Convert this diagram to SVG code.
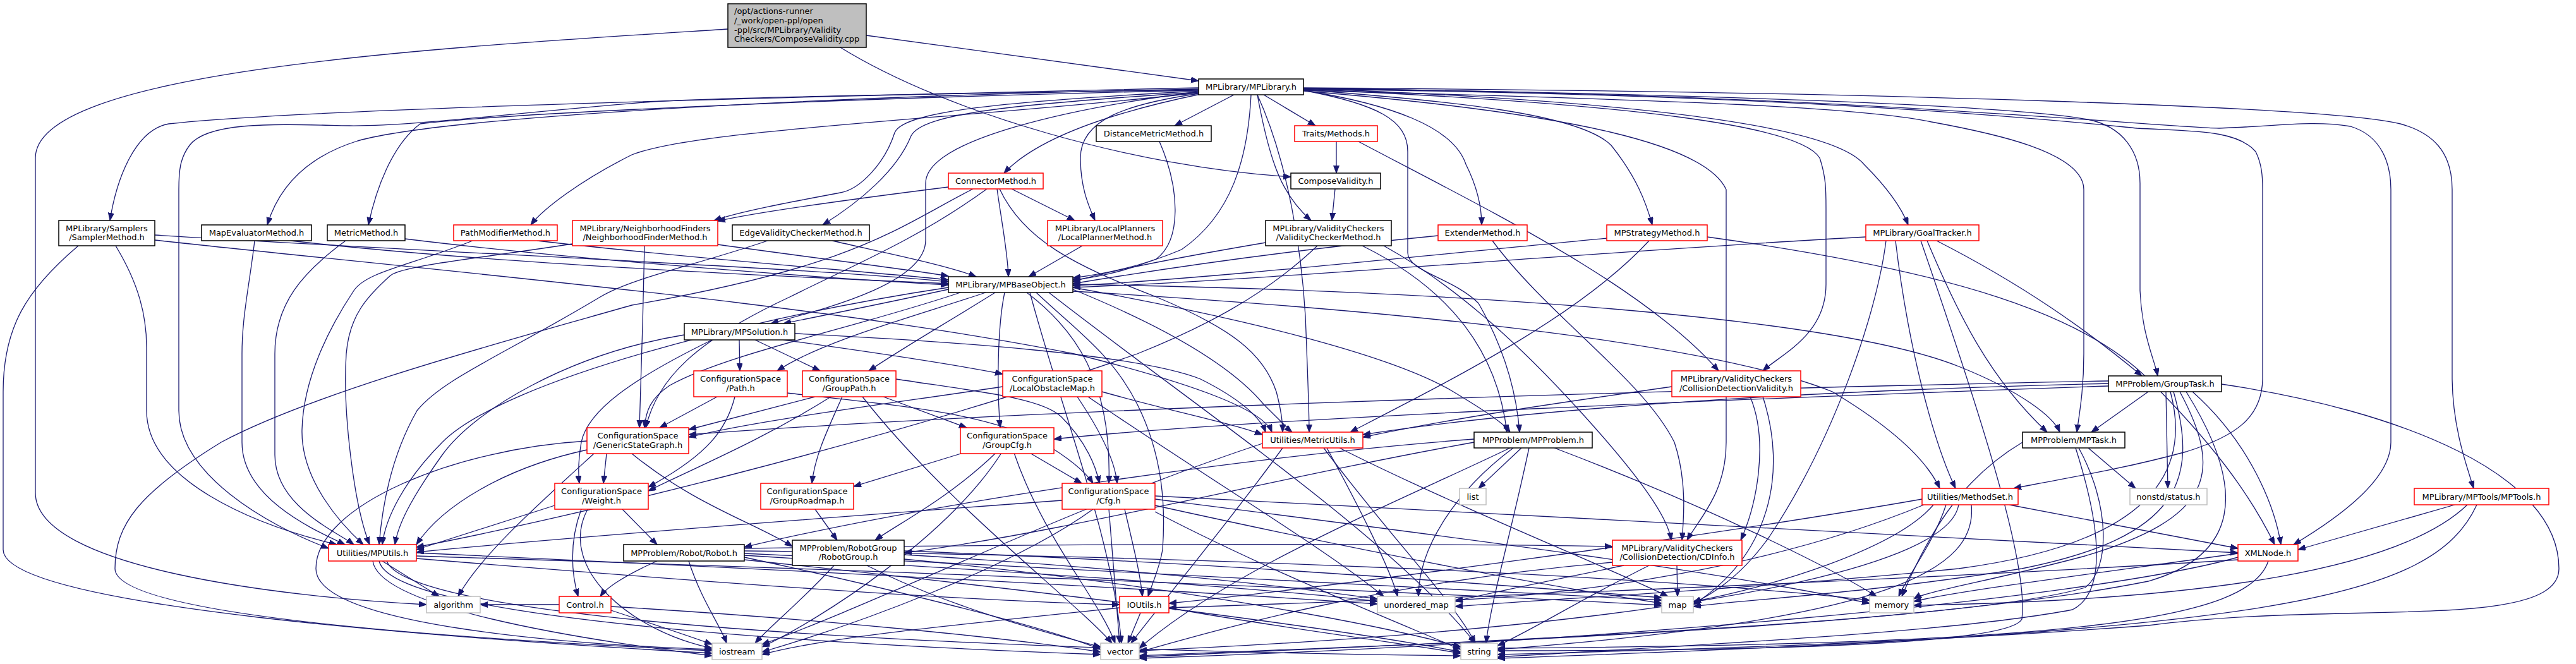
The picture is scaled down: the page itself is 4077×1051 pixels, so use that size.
<svg xmlns="http://www.w3.org/2000/svg" width="4077" height="1051" viewBox="0 0 4077 1051">
<style>
.e path{fill:none;stroke:#191970;stroke-width:1.3;marker-end:url(#a)}
rect{fill:#fff;stroke-width:1.5}
.k rect{stroke:#000}
.r rect{stroke:#f00}
.g rect{stroke:#bfbfbf}
text{font-family:"DejaVu Sans","Liberation Sans",sans-serif;font-size:13px;text-anchor:middle;fill:#000}
</style>
<defs>
<marker id="a" markerWidth="14" markerHeight="10" refX="12" refY="4.5" orient="auto" markerUnits="userSpaceOnUse"><path d="M0,0 L12,4.5 L0,9 z" fill="#191970" stroke="#191970"/></marker>
</defs>
<rect x="0" y="0" width="4077" height="1051" fill="#fff" stroke="none"/>
<g class="e" id="connectors">
<path d="M1371,56 C1600,88 1800,115 1897,128"/>
<path d="M1330,75 C1500,180 1800,265 2043,280"/>
<path d="M1152,46 C700,75 56,110 56,250 L56,780 C56,900 450,945 675,957"/>
<path d="M1897,139 C1400,150 500,170 267,196 C215,205 185,280 174,349"/>
<path d="M1897,141 C1300,152 700,185 566,223 C480,250 440,300 423,356"/>
<path d="M1897,143 C1300,156 800,180 665,196 C620,230 595,300 583,356"/>
<path d="M1897,147 C1500,190 1100,205 1000,245 C920,285 860,330 840,356"/>
<path d="M1897,144 C1600,160 1430,175 1416,210 C1400,260 1360,300 1330,305 C1250,320 1170,335 1130,349"/>
<path d="M1897,146 C1600,165 1460,180 1442,215 C1420,270 1360,320 1302,356"/>
<path d="M1953,150 L1859,199"/>
<path d="M1900,149 C1750,180 1640,220 1589,274"/>
<path d="M1898,148 C1780,165 1710,190 1710,250 C1710,300 1725,330 1733,349"/>
<path d="M1980,150 C1975,250 1950,340 1870,395 C1800,425 1730,436 1698,440"/>
<path d="M1898,145 C1700,170 1465,220 1465,290 L1465,380 C1465,450 1300,490 1220,512"/>
<path d="M2000,150 L2082,199"/>
<path d="M1990,150 C2010,260 2030,310 2075,349"/>
<path d="M2063,143 C2200,165 2300,200 2320,260 C2340,300 2345,330 2345,356"/>
<path d="M2063,142 C2300,160 2500,180 2550,230 C2590,280 2605,320 2615,356"/>
<path d="M2063,140 C2600,160 2900,200 2950,260 C2990,300 3010,330 3020,356"/>
<path d="M2063,141 C2600,165 2850,200 2880,250 C2890,280 2890,300 2890,330 L2890,450 C2890,530 2820,560 2790,587"/>
<path d="M2063,143 C2180,165 2228,190 2228,240 L2228,400 C2228,430 2300,440 2340,480 C2380,550 2400,620 2405,684"/>
<path d="M1990,150 C2040,260 2060,400 2066,500 C2070,600 2072,650 2072,684"/>
<path d="M2063,140 C2800,150 3200,170 3304,189 C3360,200 3387,240 3387,290 L3387,460 C3390,530 3410,570 3415,595"/>
<path d="M2063,143 C2700,160 2950,170 3057,193 C3150,210 3298,240 3298,300 L3298,560 C3298,620 3290,660 3287,684"/>
<path d="M2063,141 C2900,150 3300,195 3382,203 C3470,208 3540,205 3570,240 C3580,260 3581,280 3581,300 L3581,600 C3580,660 3540,690 3460,715 C3350,745 3250,760 3187,773"/>
<path d="M2063,140 C2900,148 3400,200 3512,203 C3600,200 3660,190 3720,200 C3770,215 3784,260 3784,300 L3784,700 C3784,760 3700,820 3630,862"/>
<path d="M2063,139 C3000,145 3700,170 3799,196 C3850,210 3881,240 3881,300 L3881,600 C3882,680 3905,740 3915,773"/>
<path d="M1897,142 C1400,150 1100,155 1020,162 C800,180 650,200 553,199 C450,197 330,190 300,230 C285,250 283,270 283,300 L283,650 C283,750 420,830 520,868"/>
<path d="M2063,144 C2500,180 2700,230 2732,300 L2732,700 C2732,780 2690,820 2670,855"/>
<path d="M1501,296 C1350,315 1200,335 1136,350"/>
<path d="M1601,299 L1701,349"/>
<path d="M1578,299 C1585,350 1595,400 1596,438"/>
<path d="M1582,299 C1620,380 1700,420 1830,470 C1950,520 2000,560 2020,620 C2028,650 2030,670 2030,684"/>
<path d="M1562,299 C1450,380 1350,420 1250,470 C1100,540 1040,600 1022,677"/>
<path d="M1540,299 C1420,360 1360,420 1000,483 C800,540 500,620 350,700 C220,780 182,830 182,900 C182,980 800,1015 1127,1030"/>
<path d="M1835,224 C1868,300 1870,380 1830,410 C1780,430 1730,440 1698,443"/>
<path d="M1713,389 L1628,438"/>
<path d="M1136,387 C1300,410 1450,428 1501,437"/>
<path d="M1317,381 C1400,400 1500,420 1545,438"/>
<path d="M245,372 C700,400 1300,425 1501,446"/>
<path d="M460,381 C800,420 1300,440 1501,449"/>
<path d="M641,378 C900,410 1300,440 1501,451"/>
<path d="M850,381 C1100,410 1400,432 1501,443"/>
<path d="M2003,384 C1850,410 1750,430 1698,446"/>
<path d="M2276,373 C2000,400 1800,432 1698,449"/>
<path d="M2543,377 C2200,410 1900,442 1698,452"/>
<path d="M2953,375 C2500,400 2000,444 1698,455"/>
<path d="M183,389 C220,450 232,500 232,550 L232,650 C232,760 400,830 533,862"/>
<path d="M403,381 C395,450 383,500 383,560 L383,700 C383,790 500,840 546,862"/>
<path d="M547,381 C480,430 435,480 435,560 L435,720 C435,800 530,840 560,862"/>
<path d="M748,381 C650,420 580,430 560,460 C520,520 480,600 478,680 C476,760 540,830 575,862"/>
<path d="M906,386 C750,410 640,420 618,436 C580,470 553,500 548,560 C542,650 560,800 585,862"/>
<path d="M1215,381 C1100,420 1000,440 950,470 C800,560 700,600 660,650 C620,720 605,800 600,862"/>
<path d="M2085,389 C2000,470 1900,520 1800,560 C1400,700 900,820 659,866"/>
<path d="M124,389 C40,460 5,520 5,620 L5,870 C5,960 700,1010 1127,1034"/>
<path d="M245,380 C700,430 1300,480 1700,560 C1900,610 2000,650 2013,684"/>
<path d="M1020,389 C1018,480 1015,600 1012,677"/>
<path d="M1501,458 C1400,480 1300,500 1240,512"/>
<path d="M1560,463 C1450,500 1300,540 1230,587"/>
<path d="M1575,463 C1500,510 1430,550 1375,587"/>
<path d="M1590,463 C1578,520 1578,620 1583,677"/>
<path d="M1625,463 C1700,520 1760,600 1755,765"/>
<path d="M1520,463 C1350,520 1150,560 1060,610 C1030,630 1022,650 1020,677"/>
<path d="M1501,455 C1200,500 800,600 700,700 C640,760 610,820 605,862"/>
<path d="M1698,458 C1850,520 1950,580 2000,640 C2030,670 2040,680 2045,684"/>
<path d="M1698,455 C1950,500 2200,560 2300,620 C2350,650 2380,670 2390,684"/>
<path d="M1640,463 C1700,520 1760,560 1800,640 C1840,720 1845,800 1840,870 C1835,900 1825,920 1817,944"/>
<path d="M1630,463 C1680,650 1760,850 1775,1018"/>
<path d="M1660,463 C1900,650 2200,850 2335,1018"/>
<path d="M1698,450 C2300,460 2900,500 3100,580 C3200,620 3250,660 3260,684"/>
<path d="M1698,461 C2200,490 2700,540 2900,620 C3000,680 3050,730 3070,773"/>
<path d="M1170,538 L1171,587"/>
<path d="M1195,538 L1298,587"/>
<path d="M1240,538 C1400,560 1500,575 1587,592"/>
<path d="M1258,528 C1500,540 1800,560 1900,600 C1960,630 1995,660 2003,684"/>
<path d="M1127,538 C1000,600 930,650 920,700 C915,730 915,750 917,765"/>
<path d="M1083,530 C900,560 750,650 700,720 C650,790 630,830 625,862"/>
<path d="M1135,628 L1044,677"/>
<path d="M1163,628 C1150,680 1120,720 1026,771"/>
<path d="M1246,622 C1400,640 1550,650 1650,700 C1700,730 1720,750 1730,765"/>
<path d="M1290,628 L1090,680"/>
<path d="M1398,628 L1530,677"/>
<path d="M1333,628 C1310,680 1290,720 1285,765"/>
<path d="M1315,628 C1200,700 1100,740 1026,777"/>
<path d="M1418,600 C1550,620 1650,630 1680,660 C1720,700 1735,740 1740,765"/>
<path d="M1365,628 C1500,800 1700,950 1760,1018"/>
<path d="M1587,612 C1400,640 1200,665 1090,692"/>
<path d="M1705,628 C1740,680 1765,730 1768,765"/>
<path d="M1744,620 C1850,650 1950,670 1998,688"/>
<path d="M1722,628 C1900,750 2100,870 2190,944"/>
<path d="M1524,717 L1351,770"/>
<path d="M1630,717 L1712,765"/>
<path d="M1576,717 C1500,790 1420,830 1385,855"/>
<path d="M1585,717 C1500,850 1300,980 1206,1024"/>
<path d="M1605,717 C1650,850 1740,950 1765,1018"/>
<path d="M929,712 C800,740 700,800 659,862"/>
<path d="M929,698 C720,710 500,800 500,900 C500,990 900,1020 1127,1028"/>
<path d="M1000,718 C1100,800 1200,830 1254,865"/>
<path d="M960,718 L955,765"/>
<path d="M940,718 C850,800 760,880 725,944"/>
<path d="M878,800 L659,870"/>
<path d="M920,806 C900,860 905,910 915,944"/>
<path d="M985,806 L1040,862"/>
<path d="M930,806 C880,900 1000,1000 1127,1026"/>
<path d="M1290,806 L1325,855"/>
<path d="M1681,792 C1300,820 900,850 659,874"/>
<path d="M1755,806 L1772,1018"/>
<path d="M1730,806 C1600,900 1350,990 1206,1032"/>
<path d="M1828,790 C2300,850 2700,900 2959,955"/>
<path d="M1828,800 C2100,860 2400,920 2630,955"/>
<path d="M1828,810 C2000,900 2200,980 2312,1028"/>
<path d="M1828,785 C2500,820 3200,860 3542,875"/>
<path d="M1780,806 C1795,870 1805,910 1808,944"/>
<path d="M1040,888 C990,910 960,930 950,944"/>
<path d="M1090,888 C1110,950 1140,990 1150,1018"/>
<path d="M1178,882 C1400,930 1650,990 1742,1028"/>
<path d="M1178,886 C1600,930 2100,990 2312,1032"/>
<path d="M1178,876 C1700,900 2300,930 2630,950"/>
<path d="M1178,879 C1600,905 2000,930 2180,952"/>
<path d="M1178,872 C1900,880 2600,910 2959,950"/>
<path d="M1178,868 C1700,860 2300,860 2552,865"/>
<path d="M1320,895 C1270,950 1220,990 1195,1018"/>
<path d="M1372,895 C1500,960 1650,1000 1742,1024"/>
<path d="M1431,885 C1800,920 2150,980 2312,1024"/>
<path d="M1431,878 C1800,900 2050,930 2180,948"/>
<path d="M1431,872 C1900,890 2300,920 2630,946"/>
<path d="M885,957 L760,957"/>
<path d="M967,966 C1040,990 1100,1010 1127,1020"/>
<path d="M967,960 C1300,980 1600,1010 1742,1032"/>
<path d="M605,888 L695,944"/>
<path d="M590,888 C600,960 900,1010 1127,1038"/>
<path d="M600,888 C620,980 1300,1020 1742,1036"/>
<path d="M612,888 C650,990 1600,1030 2312,1038"/>
<path d="M659,875 C1200,900 1800,930 2180,956"/>
<path d="M659,880 C1300,900 2100,930 2630,958"/>
<path d="M659,884 C1100,920 1500,950 1772,957"/>
<path d="M1805,970 L1785,1018"/>
<path d="M1772,962 C1500,990 1300,1010 1206,1036"/>
<path d="M1850,962 C2000,990 2200,1015 2312,1034"/>
<path d="M2030,709 C1950,820 1850,940 1790,1018"/>
<path d="M2095,709 C2200,850 2300,950 2335,1018"/>
<path d="M2100,709 C2150,800 2200,900 2212,944"/>
<path d="M2120,709 C2300,800 2550,900 2640,944"/>
<path d="M1998,702 C1700,800 1400,950 1206,1020"/>
<path d="M2408,709 L2340,773"/>
<path d="M2395,709 C2300,780 2245,870 2245,944"/>
<path d="M2420,709 C2390,850 2360,950 2352,1018"/>
<path d="M2460,709 C2700,800 2900,900 2970,944"/>
<path d="M2333,695 C2000,720 1500,790 1178,866"/>
<path d="M2333,700 C2000,760 1700,840 1431,875"/>
<path d="M2390,709 C2200,800 1950,900 1803,1026"/>
<path d="M2770,628 C2800,700 2780,800 2755,855"/>
<path d="M2790,628 C2830,750 2800,880 2680,957"/>
<path d="M2646,612 C2450,640 2300,662 2157,692"/>
<path d="M2654,895 L2655,944"/>
<path d="M2570,895 C2450,920 2350,940 2303,952"/>
<path d="M2610,895 C2500,950 2420,1000 2370,1022"/>
<path d="M2552,890 C2200,920 1950,990 1803,1032"/>
<path d="M2115,224 L2115,274"/>
<path d="M2150,224 C2350,330 2600,450 2720,587"/>
<path d="M2113,299 L2108,349"/>
<path d="M2190,389 C2300,450 2400,540 2500,650 C2600,760 2640,820 2645,855"/>
<path d="M2156,389 C2300,460 2370,560 2385,684"/>
<path d="M2362,381 C2450,500 2600,600 2650,700 C2670,760 2665,820 2662,855"/>
<path d="M2610,381 C2500,500 2300,600 2137,684"/>
<path d="M2702,375 C3100,430 3300,500 3400,600 C3500,700 3560,780 3600,862"/>
<path d="M3050,381 C3100,500 3150,600 3240,684"/>
<path d="M3065,381 C3200,450 3300,520 3390,595"/>
<path d="M3040,381 C3150,700 3210,900 3200,980 C3180,1020 2800,1030 2370,1030"/>
<path d="M2985,381 C2970,500 2900,700 2800,850 C2750,920 2700,945 2680,955"/>
<path d="M3000,381 C3020,550 3060,700 3095,773"/>
<path d="M3400,620 L3310,684"/>
<path d="M3428,620 L3431,773"/>
<path d="M3337,603 C2500,620 1600,650 1090,688"/>
<path d="M3337,607 C2800,620 2400,650 2157,688"/>
<path d="M3337,611 C2800,630 2000,660 1668,695"/>
<path d="M3470,620 C3560,700 3600,800 3610,862"/>
<path d="M3450,620 C3520,750 3500,820 3300,880 C3150,920 3050,935 3029,948"/>
<path d="M3440,620 C3480,760 3450,850 3200,900 C2950,940 2750,950 2680,960"/>
<path d="M3516,608 C3800,650 4050,750 4050,900 C4050,1000 3700,950 3400,990 C3000,1020 2600,1030 2370,1036"/>
<path d="M3460,620 C3560,780 3540,880 3400,920 C3000,1000 2200,1020 1803,1038"/>
<path d="M3435,620 C3470,750 3400,860 3100,900 C2800,930 2500,945 2303,960"/>
<path d="M3305,709 L3380,773"/>
<path d="M3285,709 C3330,850 3330,940 3280,965 C3100,1000 2700,1020 2370,1040"/>
<path d="M3201,700 C3100,760 3050,850 3010,944"/>
<path d="M3290,709 C3340,800 3340,900 3300,930 C3100,990 2200,1020 1803,1040"/>
<path d="M3180,799 L3542,868"/>
<path d="M3080,799 C3060,860 3020,910 3005,944"/>
<path d="M3060,799 C3000,870 2800,930 2680,952"/>
<path d="M3120,799 C3130,900 3000,980 2370,1028"/>
<path d="M3100,799 C3080,920 2500,1000 1803,1030"/>
<path d="M3045,799 C2800,900 2500,940 2303,950"/>
<path d="M3042,790 C2700,850 2100,930 1850,955"/>
<path d="M3885,799 L3637,870"/>
<path d="M3905,799 C3800,900 3500,950 3029,958"/>
<path d="M3920,799 C3850,950 3600,1000 2370,1042"/>
<path d="M3590,888 C3560,980 3300,1020 2370,1026"/>
<path d="M3542,882 C3300,950 2500,1020 1803,1042"/>
<path d="M3542,876 C3300,910 3100,935 3029,952"/>
<path d="M3542,886 C3000,920 2200,950 1850,962"/>
</g>
<g id="root"><rect x="1152" y="6" width="219" height="69" style="fill:#bfbfbf;stroke:#000"/><text x="1162" y="22" style="text-anchor:start">/opt/actions-runner</text><text x="1162" y="37" style="text-anchor:start">/_work/open-ppl/open</text><text x="1162" y="51.5" style="text-anchor:start">-ppl/src/MPLibrary/Validity</text><text x="1162" y="66" style="text-anchor:start">Checkers/ComposeValidity.cpp</text></g>
<g id="n_MPLibrary" class="k"><rect x="1897" y="125" width="166" height="25"/><text x="1980" y="142">MPLibrary/MPLibrary.h</text></g>
<g id="n_SamplerMethod" class="k"><rect x="93" y="349" width="152" height="40"/><text x="169" y="365.5">MPLibrary/Samplers</text><text x="169" y="380">/SamplerMethod.h</text></g>
<g id="n_MapEvaluatorMethod" class="k"><rect x="319" y="356" width="174" height="25"/><text x="406" y="373">MapEvaluatorMethod.h</text></g>
<g id="n_MetricMethod" class="k"><rect x="518" y="356" width="123" height="25"/><text x="579.5" y="373">MetricMethod.h</text></g>
<g id="n_PathModifierMethod" class="r"><rect x="718" y="356" width="164" height="25"/><text x="800" y="373">PathModifierMethod.h</text></g>
<g id="n_NeighborhoodFinderMethod" class="r"><rect x="906" y="349" width="230" height="40"/><text x="1021" y="365.5">MPLibrary/NeighborhoodFinders</text><text x="1021" y="380">/NeighborhoodFinderMethod.h</text></g>
<g id="n_EdgeValidityCheckerMethod" class="k"><rect x="1159" y="356" width="217" height="25"/><text x="1267.5" y="373">EdgeValidityCheckerMethod.h</text></g>
<g id="n_DistanceMetricMethod" class="k"><rect x="1735" y="199" width="182" height="25"/><text x="1826" y="216">DistanceMetricMethod.h</text></g>
<g id="n_ConnectorMethod" class="r"><rect x="1501" y="274" width="150" height="25"/><text x="1576" y="291">ConnectorMethod.h</text></g>
<g id="n_LocalPlannerMethod" class="r"><rect x="1658" y="349" width="182" height="40"/><text x="1749" y="365.5">MPLibrary/LocalPlanners</text><text x="1749" y="380">/LocalPlannerMethod.h</text></g>
<g id="n_MPBaseObject" class="k"><rect x="1501" y="438" width="197" height="25"/><text x="1599.5" y="455">MPLibrary/MPBaseObject.h</text></g>
<g id="n_MPSolution" class="k"><rect x="1083" y="512" width="175" height="26"/><text x="1170.5" y="529.5">MPLibrary/MPSolution.h</text></g>
<g id="n_TraitsMethods" class="r"><rect x="2049" y="199" width="131" height="25"/><text x="2114.5" y="216">Traits/Methods.h</text></g>
<g id="n_ComposeValidity" class="k"><rect x="2043" y="274" width="142" height="25"/><text x="2114" y="291">ComposeValidity.h</text></g>
<g id="n_ValidityCheckerMethod" class="k"><rect x="2003" y="349" width="199" height="40"/><text x="2102.5" y="365.5">MPLibrary/ValidityCheckers</text><text x="2102.5" y="380">/ValidityCheckerMethod.h</text></g>
<g id="n_ExtenderMethod" class="r"><rect x="2276" y="356" width="141" height="25"/><text x="2346.5" y="373">ExtenderMethod.h</text></g>
<g id="n_MPStrategyMethod" class="r"><rect x="2543" y="356" width="159" height="25"/><text x="2622.5" y="373">MPStrategyMethod.h</text></g>
<g id="n_GoalTracker" class="r"><rect x="2953" y="356" width="179" height="25"/><text x="3042.5" y="373">MPLibrary/GoalTracker.h</text></g>
<g id="n_Path" class="r"><rect x="1098" y="587" width="148" height="41"/><text x="1172" y="604">ConfigurationSpace</text><text x="1172" y="619">/Path.h</text></g>
<g id="n_GroupPath" class="r"><rect x="1270" y="587" width="148" height="41"/><text x="1344" y="604">ConfigurationSpace</text><text x="1344" y="619">/GroupPath.h</text></g>
<g id="n_LocalObstacleMap" class="r"><rect x="1587" y="587" width="157" height="41"/><text x="1665.5" y="604">ConfigurationSpace</text><text x="1665.5" y="619">/LocalObstacleMap.h</text></g>
<g id="n_CollisionDetectionValidity" class="r"><rect x="2646" y="587" width="204" height="41"/><text x="2748" y="604">MPLibrary/ValidityCheckers</text><text x="2748" y="619">/CollisionDetectionValidity.h</text></g>
<g id="n_GroupTask" class="k"><rect x="3337" y="595" width="179" height="25"/><text x="3426.5" y="612">MPProblem/GroupTask.h</text></g>
<g id="n_GenericStateGraph" class="r"><rect x="929" y="677" width="161" height="41"/><text x="1009.5" y="694">ConfigurationSpace</text><text x="1009.5" y="709">/GenericStateGraph.h</text></g>
<g id="n_GroupCfg" class="r"><rect x="1520" y="677" width="148" height="41"/><text x="1594" y="694">ConfigurationSpace</text><text x="1594" y="709">/GroupCfg.h</text></g>
<g id="n_MetricUtils" class="r"><rect x="1998" y="684" width="159" height="25"/><text x="2077.5" y="701">Utilities/MetricUtils.h</text></g>
<g id="n_MPProblem" class="k"><rect x="2333" y="684" width="187" height="25"/><text x="2426.5" y="701">MPProblem/MPProblem.h</text></g>
<g id="n_MPTask" class="k"><rect x="3201" y="684" width="162" height="25"/><text x="3282" y="701">MPProblem/MPTask.h</text></g>
<g id="n_Weight" class="r"><rect x="878" y="765" width="148" height="41"/><text x="952" y="782">ConfigurationSpace</text><text x="952" y="797">/Weight.h</text></g>
<g id="n_GroupRoadmap" class="r"><rect x="1204" y="765" width="147" height="41"/><text x="1277.5" y="782">ConfigurationSpace</text><text x="1277.5" y="797">/GroupRoadmap.h</text></g>
<g id="n_Cfg" class="r"><rect x="1681" y="765" width="147" height="41"/><text x="1754.5" y="782">ConfigurationSpace</text><text x="1754.5" y="797">/Cfg.h</text></g>
<g id="n_list" class="g"><rect x="2310" y="773" width="42" height="26"/><text x="2331" y="790.5">list</text></g>
<g id="n_status" class="g"><rect x="3371" y="773" width="122" height="26"/><text x="3432" y="790.5">nonstd/status.h</text></g>
<g id="n_MethodSet" class="r"><rect x="3042" y="773" width="152" height="26"/><text x="3118" y="790.5">Utilities/MethodSet.h</text></g>
<g id="n_MPTools" class="r"><rect x="3821" y="773" width="213" height="26"/><text x="3927.5" y="790.5">MPLibrary/MPTools/MPTools.h</text></g>
<g id="n_MPUtils" class="r"><rect x="520" y="862" width="139" height="26"/><text x="589.5" y="879.5">Utilities/MPUtils.h</text></g>
<g id="n_Robot" class="k"><rect x="987" y="862" width="191" height="26"/><text x="1082.5" y="879.5">MPProblem/Robot/Robot.h</text></g>
<g id="n_RobotGroup" class="k"><rect x="1254" y="855" width="177" height="40"/><text x="1342.5" y="871.5">MPProblem/RobotGroup</text><text x="1342.5" y="886">/RobotGroup.h</text></g>
<g id="n_CDInfo" class="r"><rect x="2552" y="855" width="205" height="40"/><text x="2654.5" y="871.5">MPLibrary/ValidityCheckers</text><text x="2654.5" y="886">/CollisionDetection/CDInfo.h</text></g>
<g id="n_XMLNode" class="r"><rect x="3542" y="862" width="95" height="26"/><text x="3589.5" y="879.5">XMLNode.h</text></g>
<g id="n_algorithm" class="g"><rect x="675" y="944" width="85" height="26"/><text x="717.5" y="961.5">algorithm</text></g>
<g id="n_Control" class="r"><rect x="885" y="944" width="82" height="26"/><text x="926" y="961.5">Control.h</text></g>
<g id="n_IOUtils" class="r"><rect x="1772" y="944" width="78" height="26"/><text x="1811" y="961.5">IOUtils.h</text></g>
<g id="n_unordered_map" class="g"><rect x="2180" y="944" width="123" height="26"/><text x="2241.5" y="961.5">unordered_map</text></g>
<g id="n_map" class="g"><rect x="2630" y="944" width="50" height="26"/><text x="2655" y="961.5">map</text></g>
<g id="n_memory" class="g"><rect x="2959" y="944" width="70" height="26"/><text x="2994" y="961.5">memory</text></g>
<g id="n_iostream" class="g"><rect x="1127" y="1018" width="79" height="26"/><text x="1166.5" y="1035.5">iostream</text></g>
<g id="n_vector" class="g"><rect x="1742" y="1018" width="61" height="26"/><text x="1772.5" y="1035.5">vector</text></g>
<g id="n_string" class="g"><rect x="2312" y="1018" width="58" height="26"/><text x="2341" y="1035.5">string</text></g>
</svg>
